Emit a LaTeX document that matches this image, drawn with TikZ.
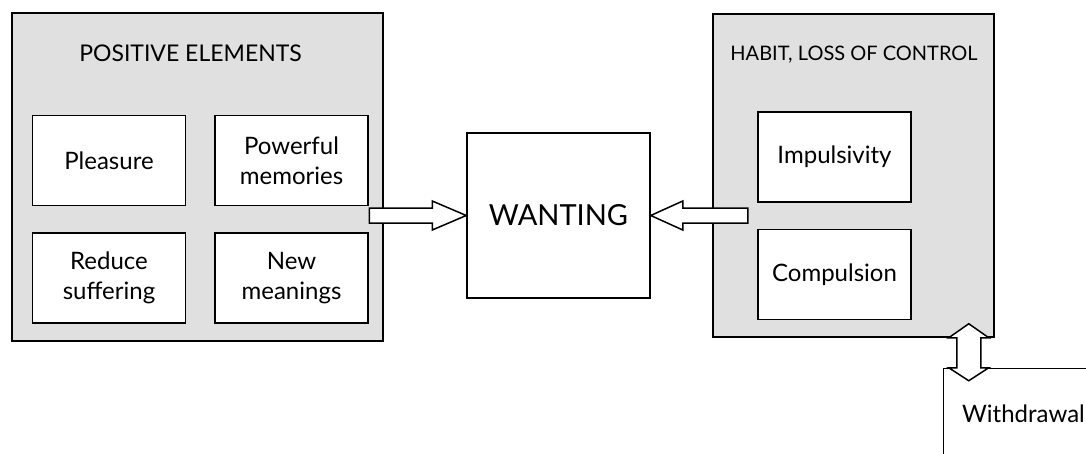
\documentclass[tikz,border=0pt]{standalone}
\usepackage{fontspec}
\setmainfont{Lato}
\usetikzlibrary{positioning}
\usetikzlibrary{calc}

\begin{document}
\begin{tikzpicture}[x=1pt, y=1pt,
    group/.style={draw, line width=1.5pt, fill=black!12, inner sep=0pt},
    box/.style={draw, line width=1.5pt, fill=white, minimum width=153pt, minimum height=90pt, align=center, inner sep=0pt, font=\fontsize{24}{30}\selectfont},
    title/.style={anchor=base, font=\fontsize{23}{28}\selectfont},
    arrow/.style={draw, line width=1.5pt, fill=white, line join=miter}]
            \clip (0,0) rectangle (1086,-453);

            \node[group, minimum width=371pt, minimum height=328pt] (pos) at (197.5,-177) {};
            \node[group, minimum width=281pt, minimum height=323pt] (habit) at (853.5,-175.5) {};
            \node[title] (postitle) at (190.5,-61) {POSITIVE ELEMENTS};
            \node[title, font=\fontsize{20}{24}\selectfont] (habittitle) at (854,-60) {HABIT, LOSS OF CONTROL};

            \node[box] (pleasure) at (109,-160.5) {Pleasure};
            \node[box, right = 28pt of pleasure] (memories) {Powerful\\memories};
            \node[box, below = 26pt of pleasure] (suffering) {Reduce\\suffering};
            \node[box, right = 28pt of suffering] (meanings) {New\\meanings};

            \node[box] (impulsivity) at (834.5,-157) {Impulsivity};
            \node[box, below = 26pt of impulsivity] (compulsion) {Compulsion};

            \node[box, minimum width=183pt, minimum height=165pt, font=\fontsize{29}{34}\selectfont] (wanting) at (558.5,-215.5) {WANTING};
            \node[box, minimum width=160pt, anchor=north west] (withdrawal) at ($(habit.south east)+(-52,-30)$) {Withdrawal};

            \draw[arrow] ($(wanting.west)+(-97,7.5)$) -- ++(63,0) -- ++(0,7) -- (wanting.west) -- ++(-34,-14.5) -- ++(0,7) -- ++(-63,0) -- cycle;
            \draw[arrow] ($(wanting.east)+(97,7.5)$) -- ++(-65,0) -- ++(0,7) -- (wanting.east) -- ++(32,-14.5) -- ++(0,7) -- ++(65,0) -- cycle;

            \coordinate (habitend) at ($(habit.south east)+(-26,14)$);
            \draw[arrow] (habitend) -- ++(20,-14) -- ++(-8,0) -- ++(0,-30) -- ++(8,0) -- ++(-20,-13) -- ++(-20,13) -- ++(8,0) -- ++(0,30) -- ++(-8,0) -- cycle;
        \end{tikzpicture}
\end{document}
